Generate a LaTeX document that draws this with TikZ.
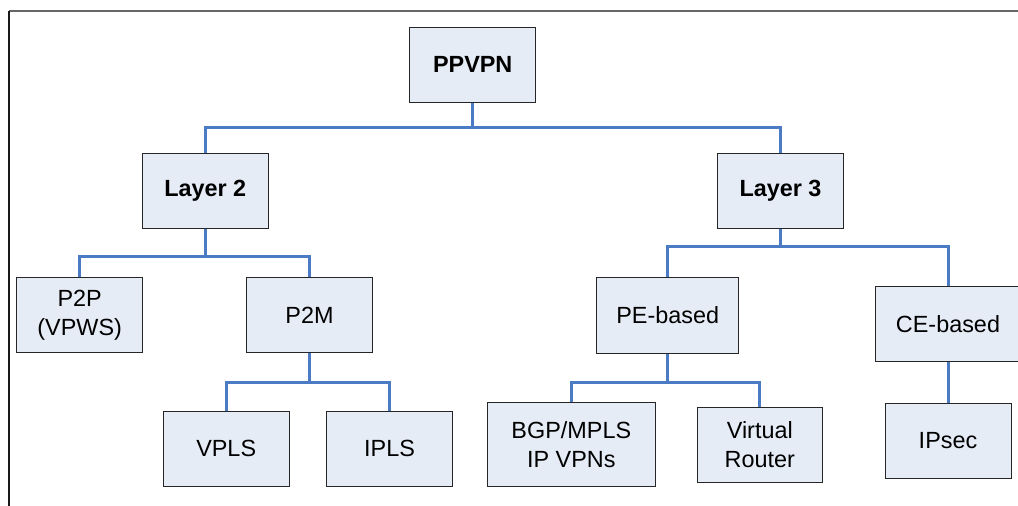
\documentclass[tikz,border=0pt]{standalone}
\usepackage{fontspec}
\setmainfont{Liberation Sans}
\usetikzlibrary{backgrounds}
\begin{document}
\begin{tikzpicture}[x=1pt,y=-1pt,
  box/.style={draw=black!85, line width=0.9pt, fill=boxfill, inner sep=0pt,
    minimum width=126pt, minimum height=75pt, align=center,
    font=\fontsize{23.4}{29}\selectfont},
  head/.style={box, font=\fontsize{23.4}{29}\selectfont\bfseries},
  link/.style={draw=linkblue, line width=3pt}]
\definecolor{boxfill}{HTML}{E6ECF6}
\definecolor{linkblue}{HTML}{4A7BC4}
\useasboundingbox (0,0) rectangle (1018,506);

% nodes
\node[head] (ppvpn) at (472.7,64.7) {PPVPN};
\node[head] (l2) at (205.3,190.5) {Layer 2};
\node[head] (l3) at (780.5,190.5) {Layer 3};
\node[box] (p2p) at (79.7,315.2) {P2P\\(VPWS)};
\node[box] (p2m) at (309.5,315.2) {P2M};
\node[box] (vpls) at (226.2,448.8) {VPLS};
\node[box] (ipls) at (389.5,448.8) {IPLS};
\node[box, minimum width=142pt, minimum height=75.6pt] (pe) at (667.7,315.5) {PE-based};
\node[box, minimum width=146pt, minimum height=74.3pt] (ce) at (948,323.8) {CE-based};
\node[box, minimum width=168pt, minimum height=84pt] (bgp) at (571.3,444.7) {BGP/MPLS\\IP VPNs};
\node[box, minimum width=125pt, minimum height=74.7pt] (vr) at (759.8,444.7) {Virtual\\Router};
\node[box] (ipsec) at (948,440.8) {IPsec};

\begin{scope}[on background layer]
\clip (0,0) rectangle (1018,506);
% outer frame (only its top and left edges fall inside the page)
\draw[line width=1.2pt, black!60] (9,11) -- (1030,11);
\draw[line width=1.2pt, black!90] (9,11) -- (9,520);

% junction points of the bus lines
\coordinate (j0) at (472.7,127.3);
\coordinate (j2) at (205.3,256.7);
\coordinate (j3) at (780.5,246.7);
\coordinate (jm) at (309.5,382);
\coordinate (jp) at (667.7,382.7);

% tree connectors
\draw[link] (ppvpn) -- (j0);
\draw[link] (l2) |- (j0) -| (l3);
\draw[link] (l2) -- (j2);
\draw[link] (p2p) |- (j2) -| (p2m);
\draw[link] (p2m) -- (jm);
\draw[link] (vpls) |- (jm) -| (ipls);
\draw[link] (l3) -- (j3);
\draw[link] (pe) |- (j3) -| (ce);
\draw[link] (pe) -- (jp);
\draw[link] (bgp) |- (jp) -| (vr);
\draw[link] (ce) -- (ipsec);
\end{scope}
\end{tikzpicture}
\end{document}
